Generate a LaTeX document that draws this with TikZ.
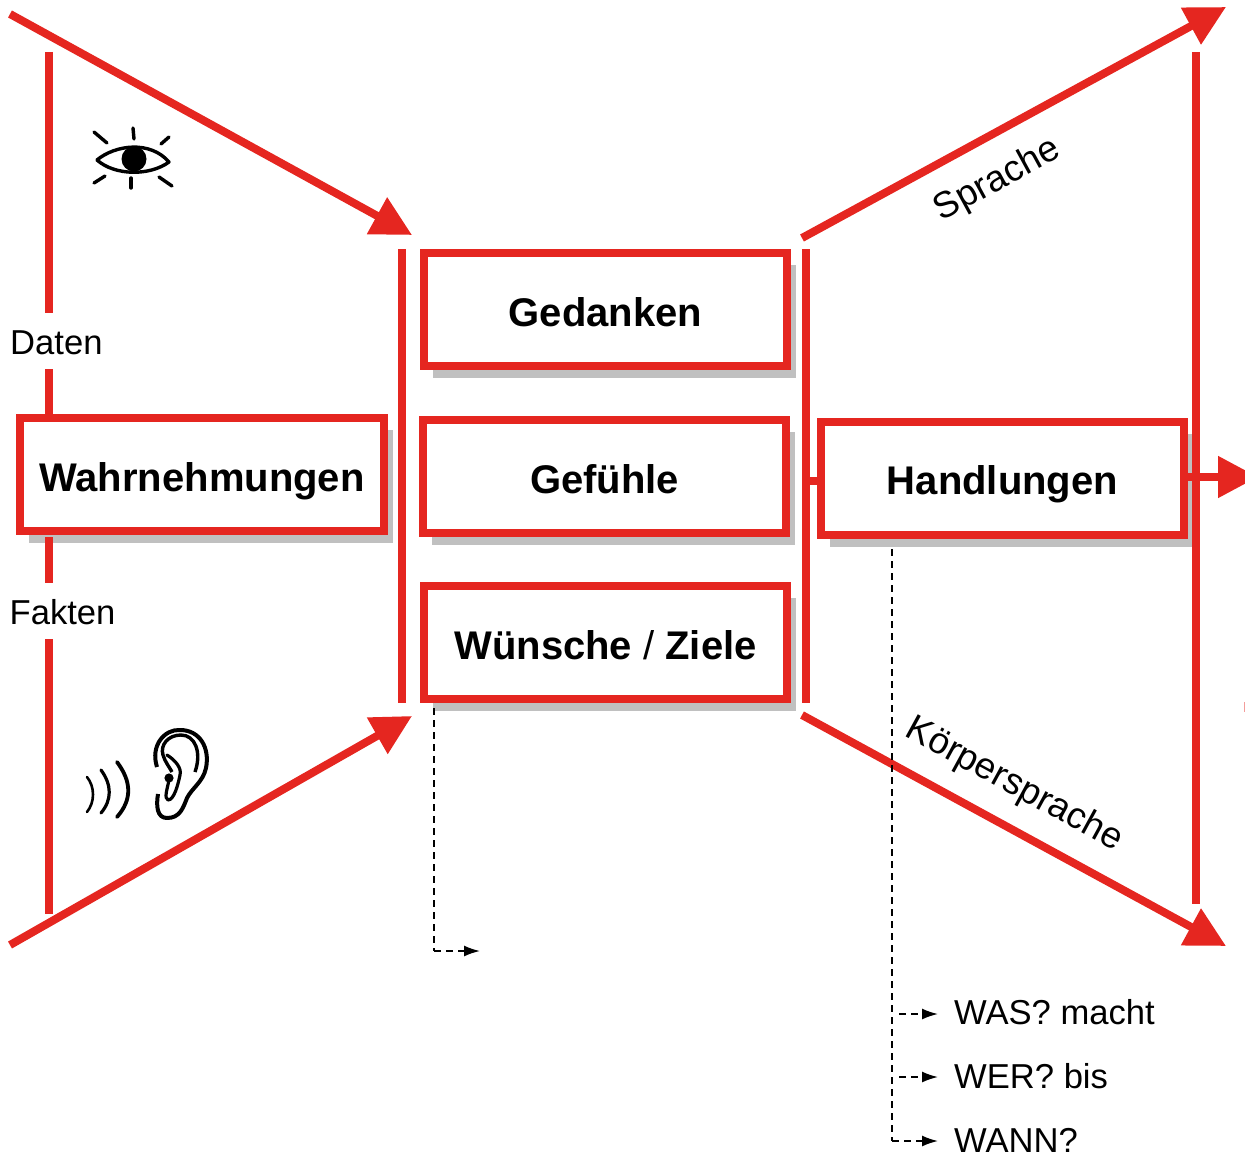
\documentclass[tikz,border=0pt]{standalone}
\usepackage{fontspec}
\setmainfont{Liberation Sans}
\usetikzlibrary{arrows.meta,shadows}
\definecolor{rd}{HTML}{E52620}
\definecolor{shd}{HTML}{C0C0C0}
\tikzset{
  redbox/.style={draw=rd,line width=8pt,fill=white,inner sep=0pt,minimum width=363pt,minimum height=113pt,
    text height=33pt,text depth=0pt,font=\bfseries\fontsize{40}{48}\selectfont,
    general shadow={shadow xshift=9pt,shadow yshift=-11.5pt,fill=shd}},
  bar/.style={draw=rd,line width=8pt},
  bigarrow/.style={draw=rd,line width=8pt,-{Triangle[length=40pt,width=40pt,fill=rd]}},
  dashline/.style={draw=black,line width=1.7pt,dash pattern=on 7pt off 5pt},
  dasharrow/.style={dashline,-{Latex[length=16pt,width=11pt]}},
  lbl/.style={inner sep=0pt,text=black,font=\fontsize{34.6}{40}\selectfont},
  rotlbl/.style={inner sep=0pt,text=black,font=\fontsize{36.8}{42}\selectfont},
  sketch/.style={draw=black,line width=3.4pt,line cap=round,line join=round},
}
\begin{document}
\begin{tikzpicture}[x=1pt,y=-1pt]
\useasboundingbox (0,0) rectangle (1245,1153);
% boxes
\node[redbox] (ged) at (605.5,309.5) {Gedanken};
\node[redbox] (gef) at (604.5,476.5) {Gefühle};
\node[redbox] (wun) at (605.5,642.5) {Wünsche {\mdseries /} Ziele};
\node[redbox,minimum width=364pt] (wahr) at (202,474.5) {Wahrnehmungen};
\node[redbox,text height=31pt] (hand) at (1002.5,478.5) {Handlungen};
% vertical bars
\coordinate (b1a) at (402,249); \coordinate (b1b) at (402,703);
\coordinate (b2a) at (806,249); \coordinate (b2b) at (806,703);
\coordinate (b3a) at (1196,52); \coordinate (b3b) at (1196,904);
\draw[bar] (b1a) -- (b1b);
\draw[bar] (b2a) -- (b2b);
\draw[bar] (b3a) -- (b3b);
% left bar with labels
\node[lbl,anchor=base west] (daten) at (10,354) {Daten};
\node[lbl,anchor=base west] (fakten) at (9.5,624) {Fakten};
\coordinate (l1) at (49,52); \coordinate (l2) at (49,313);
\coordinate (l3) at (49,369); \coordinate (l4) at (49,415);
\coordinate (l5) at (49,537); \coordinate (l6) at (49,583);
\coordinate (l7) at (49,639); \coordinate (l8) at (49,914);
\draw[bar] (l1) -- (l2);
\draw[bar] (l3) -- (l4);
\draw[bar] (l5) -- (l6);
\draw[bar] (l7) -- (l8);
% big arrows
\coordinate (a1) at (10,14); \coordinate (a1e) at (412,235);
\coordinate (a2) at (10,945); \coordinate (a2e) at (412,716);
\coordinate (a3) at (802,238); \coordinate (a3e) at (1226,7);
\coordinate (a4) at (802,715); \coordinate (a4e) at (1226,946);
\coordinate (a5e) at (1258,477);
\draw[bigarrow] (a1) -- (a1e);
\draw[bigarrow] (a2) -- (a2e);
\draw[bigarrow] (a3) -- (a3e);
\draw[bigarrow] (a4) -- (a4e);
\draw[bigarrow] (1184,477) -- (a5e);
\coordinate (linkl) at (806,481);
\draw[bar] (linkl) -- (hand.west |- linkl);
\fill[rd!45] (1243.5,702) rectangle (1245,712);
% rotated labels
\node[rotlbl,rotate=28.6] (spr) at (997.5,180.5) {Sprache};
\node[rotlbl,rotate=-28.6] (koe) at (1014,785) {Körpersprache};
% dashed connectors
\coordinate (d1a) at (434,708); \coordinate (d1b) at (434,951); \coordinate (d1c) at (480,951);
\draw[dashline] (d1a) -- (d1b);
\draw[dasharrow] (d1b) -- (d1c);
\coordinate (d2a) at (892,549); \coordinate (d2b) at (892,1141);
\draw[dashline] (d2a) -- (d2b);
\node[lbl,anchor=base west] (was) at (954,1024.5) {WAS? macht};
\node[lbl,anchor=base west] (wer) at (954,1088) {WER? bis};
\node[lbl,anchor=base west] (wann) at (954,1152) {WANN?};
\coordinate (t1) at (938,1014); \coordinate (t2) at (938,1077); \coordinate (t3) at (938,1141);
\draw[dasharrow] (899,1014) -- (t1);
\draw[dasharrow] (899,1077) -- (t2);
\draw[dasharrow] (892,1141) -- (t3);
% eye
\draw[sketch] (97,160) .. controls (115,145) and (150,140) .. (169,162)
   .. controls (150,176) and (115,176) .. (97,160);
\fill[black] (134,159) circle (12.5);
\foreach \xa/\ya/\xb/\yb in {94/132/107/143,133/128/134/139,169/137/161/144,105/176/94/183,131/178/131/188,159/177/172/186}
  \draw[sketch] (\xa,\ya) -- (\xb,\yb);
% sound arcs
\draw[sketch,line width=2.6pt] (87,777) .. controls (95,787) and (95,802) .. (87,812);
\draw[sketch,line width=3.2pt] (101,770) .. controls (112,785) and (112,800) .. (101,813);
\draw[sketch,line width=3.8pt] (117,762) .. controls (132,782) and (132,800) .. (117,817);
% ear
\draw[sketch,line width=4pt,line cap=butt] (157,767) .. controls (150,745) and (165,729) .. (180,730)
   .. controls (200,730) and (210,748) .. (206,768)
   .. controls (203,782) and (192,788) .. (187,798)
   .. controls (183,808) and (180,818) .. (167,818)
   .. controls (157,818) and (156,806) .. (158,794);
\draw[sketch,line width=3.4pt,line cap=butt] (195,772) .. controls (202,752) and (195,735) .. (181,735)
   .. controls (168,735) and (160,745) .. (163,755)
   .. controls (165,762) and (170,768) .. (172,772);
\draw[sketch,line width=3.2pt] (167,755) .. controls (175,760) and (182,768) .. (180,775)
   .. controls (178,785) and (174,800) .. (168,800)
   .. controls (164,798) and (167,790) .. (169,780);
\fill[black] (169,778) circle (4.6);
\end{tikzpicture}
\end{document}
